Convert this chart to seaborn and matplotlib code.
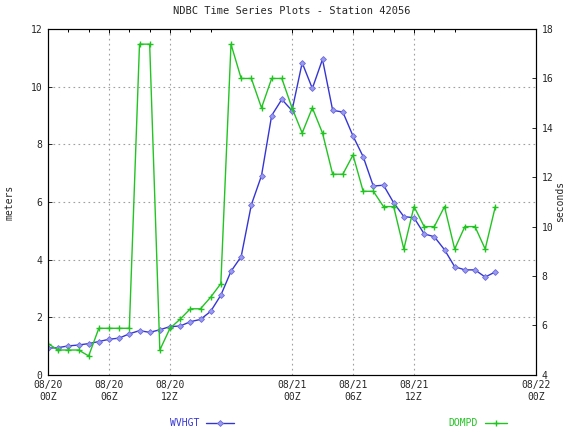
import numpy as np
import pandas as pd
import matplotlib
matplotlib.use("Agg")
import matplotlib.pyplot as plt
import seaborn as sns

# -----------------------------------------------------
# Data (hours since 08/20 00Z)
# -----------------------------------------------------

hours = list(range(45))

wvhgt = [0.92, 0.94, 1.00, 1.03, 1.08, 1.15, 1.23, 1.27, 1.42, 1.53,
         1.47, 1.56, 1.67, 1.69, 1.84, 1.92, 2.20, 2.76, 3.59, 4.10,
         5.90, 6.91, 9.00, 9.56, 9.17, 10.83, 9.94, 10.95, 9.18, 9.12,
         8.29, 7.57, 6.55, 6.58, 5.97, 5.49, 5.45, 4.89, 4.79, 4.34,
         3.75, 3.64, 3.64, 3.39, 3.57]

dompd = [5.26, 5.00, 5.00, 5.00, 4.76, 5.88, 5.88, 5.88, 5.88, 17.39,
         17.39, 5.00, 5.88, 6.25, 6.67, 6.67, 7.14, 7.69, 17.39, 16.00,
         16.00, 14.81, 16.00, 16.00, 14.81, 13.79, 14.81, 13.79, 12.12, 12.12,
         12.90, 11.43, 11.43, 10.81, 10.81, 9.09, 10.81, 10.00, 10.00, 10.81,
         9.09, 10.00, 10.00, 9.09, 10.81]

major_hours = [0, 6, 12, 24, 30, 36, 48]
major_labels = ["08/20\n00Z", "08/20\n06Z", "08/20\n12Z",
                "08/21\n00Z", "08/21\n06Z", "08/21\n12Z", "08/22\n00Z"]
minor_hours = [2, 4, 8, 10, 14, 16, 26, 28, 32, 34, 38, 40]

df = pd.DataFrame({"hour": hours, "WVHGT": wvhgt, "DOMPD": dompd})

blue = "#3535d5"
green = "#22c422"

# -----------------------------------------------------
# Figure
# -----------------------------------------------------

sns.set_style("white")
plt.rcParams["font.family"] = ["DejaVu Sans Mono"]

fig = plt.figure(figsize=(5.67, 4.29), dpi=100)
ax = fig.add_axes([48 / 567, 1 - 374.7 / 429, 488 / 567, 345.6 / 429])
ax2 = ax.twinx()

sns.lineplot(data=df, x="hour", y="WVHGT", ax=ax, color=blue, linewidth=1,
             marker="D", markersize=3, markeredgewidth=0.6,
             markeredgecolor="#6a6ae0", markerfacecolor="#9a9aee",
             label="WVHGT", legend=False)
sns.lineplot(data=df, x="hour", y="DOMPD", ax=ax2, color=green, linewidth=1,
             marker="+", markersize=5, markeredgewidth=1,
             markeredgecolor=green,
             label="DOMPD", legend=False)

ax.set_xlim(0, 48)
ax.set_ylim(0, 12)
ax2.set_ylim(4, 18)

ax.set_xticks(major_hours)
ax.set_xticklabels(major_labels)
ax.set_xticks(minor_hours, minor=True)
ax.set_yticks(range(0, 13, 2))
ax2.set_yticks(range(4, 19, 2))

ax.grid(False)
ax2.grid(False)
for h in major_hours[1:-1]:
    ax.axvline(h, color="#a0a0a0", linestyle=(0, (1.5, 3)), linewidth=0.8, zorder=0)
for v in range(2, 12, 2):
    ax.axhline(v, color="#a0a0a0", linestyle=(0, (1.5, 3)), linewidth=0.8, zorder=0)

ax.tick_params(axis="x", which="both", direction="in", top=True, labelsize=7,
               pad=4, color="black")
ax.tick_params(axis="x", which="major", length=3, width=0.7)
ax.tick_params(axis="x", which="minor", length=2.5, width=0.7)
ax.tick_params(axis="y", direction="in", length=3, width=0.7, labelsize=7,
               left=True, right=False, pad=4)
ax2.tick_params(axis="y", direction="in", length=3, width=0.7, labelsize=7,
                right=True, pad=4)

for a in (ax, ax2):
    for s in a.spines.values():
        s.set_color("black")
        s.set_linewidth(0.8)

ax.set_xlabel("")
ax.set_ylabel("meters", fontsize=7, labelpad=12)
ax2.set_ylabel("seconds", fontsize=7, labelpad=1)

fig.text(292 / 567, 1 - 11 / 429, "NDBC Time Series Plots - Station 42056",
         ha="center", va="center", fontsize=7.5)

# -----------------------------------------------------
# Legends below the plot
# -----------------------------------------------------

h1, l1 = ax.get_lines()[0], "WVHGT"
h2, l2 = ax2.get_lines()[0], "DOMPD"

fig.legend([h1], [l1], loc="center", bbox_to_anchor=(202 / 567, 1 - 423 / 429),
           frameon=False, markerfirst=False, handlelength=2.8, handletextpad=0.7,
           fontsize=7, labelcolor=blue)
fig.legend([h2], [l2], loc="center", bbox_to_anchor=(478 / 567, 1 - 423 / 429),
           frameon=False, markerfirst=False, handlelength=2.3, handletextpad=0.7,
           fontsize=7, labelcolor=green)

fig.savefig("out.png", dpi=100)
plt.close(fig)
